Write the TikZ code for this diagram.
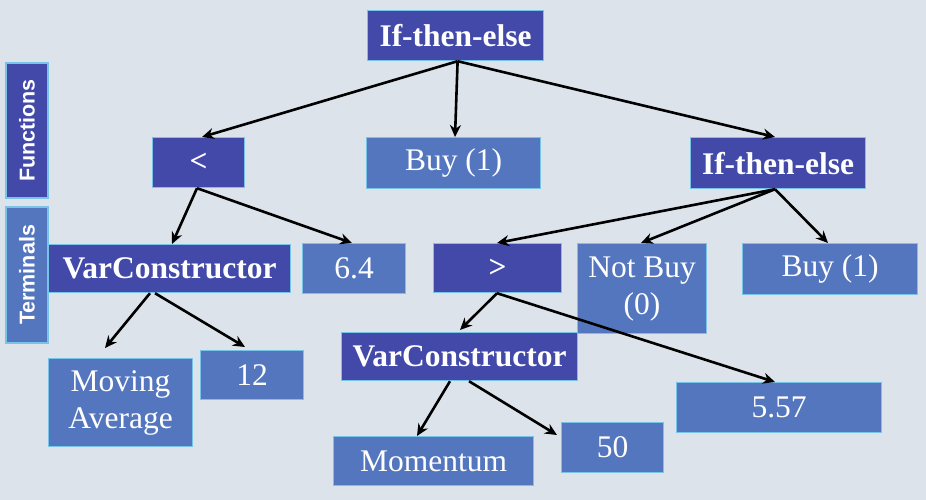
\documentclass[tikz,border=0pt]{standalone}
\usepackage{fontspec}
\setmainfont{Liberation Serif}
\newfontfamily\lsans{Liberation Sans}
\usetikzlibrary{arrows.meta}
\definecolor{bgc}{RGB}{220,227,234}
\definecolor{dkc}{RGB}{66,73,168}
\definecolor{ltc}{RGB}{84,118,190}
\definecolor{edc}{RGB}{120,196,232}
\tikzset{
  bx/.style={draw=edc, line width=1.2pt, text=white, inner sep=0pt, anchor=north west,
    align=center, font=\fontsize{31.5}{37}\selectfont},
  dk/.style={bx, fill=dkc, font=\fontsize{31.5}{37}\selectfont\bfseries},
  lt/.style={bx, fill=ltc},
  side/.style={bx, font=\lsans\fontsize{21.5}{24}\selectfont\bfseries},
  arr/.style={-{Stealth[length=12pt,width=11pt]}, line width=2.6pt, black},
}
\newcommand{\bxat}[7]{\node[#1, minimum width=#5-#3, minimum height=#6-#4] (#2) at (#3,#4) {#7};}
\begin{document}
\begin{tikzpicture}[x=1pt,y=-1pt]
\fill[bgc] (0,0) rectangle (926,500);
\useasboundingbox (0,0) rectangle (926,500);
% side labels
\node[side, fill=dkc, minimum width=42pt, minimum height=135pt, anchor=center] (fn) at (27,130.5) {\rotatebox{90}{Functions}};
\node[side, fill=ltc, minimum width=42pt, minimum height=136pt, anchor=center] (tm) at (27,275) {\rotatebox{90}{Terminals}};
% boxes
\bxat{dk}{top}{367}{10}{543}{60}{If-then-else}
\bxat{dk}{lt1}{152}{137}{244}{187}{<}
\bxat{lt}{buy1}{366}{137}{540}{188}{Buy (1)}
\bxat{dk}{ite}{690}{137}{865}{188}{If-then-else}
\bxat{dk}{vc1}{48}{244}{290}{292}{VarConstructor}
\bxat{lt}{v64}{302}{243}{405}{293}{6.4}
\bxat{lt}{ma}{48}{358}{192}{446}{Moving\\Average}
\bxat{lt}{v12}{200}{350}{303}{399}{12}
\bxat{dk}{gt}{433}{243}{561}{292}{>}
\bxat{lt}{nb}{577}{243}{706}{333}{Not Buy\\(0)}
\bxat{lt}{buy2}{742}{243}{917}{294}{Buy (1)}
\bxat{dk}{vc2}{341}{332}{577}{380}{VarConstructor}
\bxat{lt}{v557}{676}{382}{881}{432}{5.57}
\bxat{lt}{v50}{561}{422}{663}{472}{50}
\bxat{lt}{mom}{333}{436}{533}{485}{Momentum}
% arrows
\draw[arr] ([xshift=2pt]top.south) -- ([xshift=50pt]lt1.north west);
\draw[arr] ([xshift=2pt]top.south) -- ([xshift=89pt]buy1.north west);
\draw[arr] ([xshift=2pt]top.south) -- ([xshift=85pt]ite.north west);
\draw[arr] ([xshift=45pt]lt1.south west) -- ([xshift=124pt]vc1.north west);
\draw[arr] ([xshift=45pt]lt1.south west) -- ([xshift=50pt]v64.north west);
\draw[arr] ([xshift=85pt]ite.south west) -- ([xshift=64pt]gt.north west);
\draw[arr] ([xshift=85pt]ite.south west) -- ([xshift=64pt]nb.north west);
\draw[arr] ([xshift=85pt]ite.south west) -- ([xshift=86pt]buy2.north west);
\draw[arr] ([xshift=102pt]vc1.south west) -- ([xshift=57pt,yshift=10pt]ma.north west);
\draw[arr] ([xshift=107pt]vc1.south west) -- ([xshift=45pt,yshift=3pt]v12.north west);
\draw[arr] ([xshift=64pt]gt.south west) -- ([xshift=119pt,yshift=2pt]vc2.north west);
\draw[arr] ([xshift=64pt]gt.south west) -- ([xshift=99pt]v557.north west);
\draw[arr] ([xshift=109pt]vc2.south west) -- ([xshift=84pt]mom.north west);
\draw[arr] ([xshift=128pt]vc2.south west) -- ([xshift=-4pt,yshift=-13pt]v50.north west);
\end{tikzpicture}
\end{document}
